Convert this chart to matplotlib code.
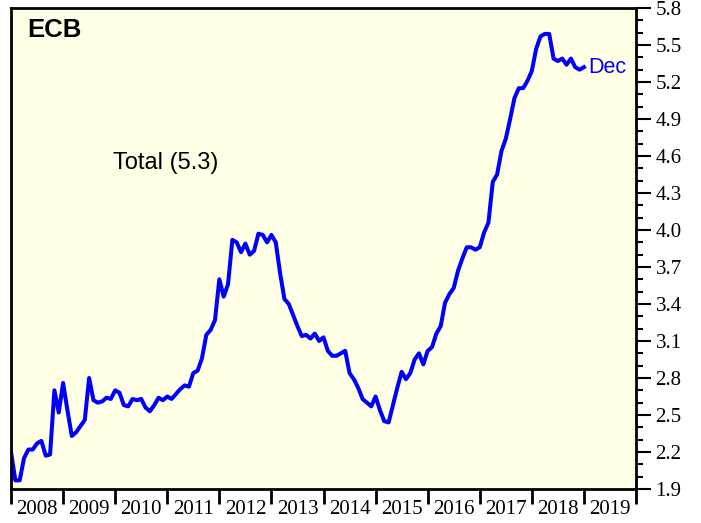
import numpy as np
import matplotlib
matplotlib.use('Agg')
import matplotlib.pyplot as plt
from matplotlib.ticker import FixedLocator, NullFormatter

# monthly values, Dec 2007 .. Dec 2018
values = [2.20, 1.97, 1.97, 2.15, 2.22, 2.22, 2.27, 2.29, 2.17, 2.18,
          2.70, 2.52, 2.76, 2.54, 2.33, 2.36, 2.41, 2.46, 2.80, 2.62,
          2.60, 2.61, 2.64, 2.63, 2.70, 2.68, 2.58, 2.57, 2.63, 2.62,
          2.63, 2.56, 2.53, 2.58, 2.64, 2.62, 2.65, 2.63, 2.67, 2.71,
          2.74, 2.73, 2.84, 2.86, 2.96, 3.15, 3.19, 3.27, 3.60, 3.46,
          3.56, 3.92, 3.90, 3.82, 3.89, 3.80, 3.83, 3.97, 3.96, 3.90,
          3.96, 3.90, 3.65, 3.44, 3.40, 3.31, 3.22, 3.14, 3.15, 3.12,
          3.16, 3.10, 3.13, 3.02, 2.98, 2.98, 3.00, 3.02, 2.84, 2.79,
          2.72, 2.63, 2.60, 2.57, 2.65, 2.54, 2.45, 2.44, 2.58, 2.72,
          2.85, 2.79, 2.84, 2.95, 3.00, 2.91, 3.02, 3.05, 3.16, 3.22,
          3.41, 3.48, 3.53, 3.67, 3.77, 3.86, 3.86, 3.84, 3.86, 3.98,
          4.06, 4.39, 4.45, 4.64, 4.74, 4.90, 5.07, 5.15, 5.15, 5.21,
          5.29, 5.47, 5.57, 5.59, 5.59, 5.39, 5.37, 5.39, 5.34, 5.39,
          5.32, 5.30, 5.32]
years = list(range(2008, 2020))
yticks = [1.9, 2.2, 2.5, 2.8, 3.1, 3.4, 3.7, 4.0, 4.3, 4.6, 4.9, 5.2, 5.5, 5.8]
title = 'ECB'
series_label = 'Total (5.3)'
end_label = 'Dec'

serif = 'Liberation Serif'
sans = 'Liberation Sans'
plt.rcParams['font.family'] = serif

x = 2008 + np.arange(len(values)) / 12.0

fig = plt.figure(figsize=(7.01, 5.23), dpi=100)
ax = fig.add_axes([11/701, 34/523, 625/701, 481/523])
ax.set_facecolor('#FFFFE6')

ax.plot(x, values, color='#0000FF', lw=2.9, solid_joinstyle='round')

ax.set_xlim(2008, 2020)
ax.set_ylim(1.9, 5.8)

# y axis on the right
ax.yaxis.tick_right()
ax.yaxis.set_major_locator(FixedLocator(yticks))
ax.yaxis.set_minor_locator(FixedLocator(np.arange(19, 59) / 10.0))
ax.set_yticklabels(['%.1f' % v for v in yticks])
ax.tick_params(axis='y', which='major', direction='out', length=11, width=1.5, pad=3,
               labelsize=15)
ax.tick_params(axis='y', which='minor', direction='out', length=5, width=1.5)

# x axis: year boundaries as ticks, labels between them
ax.xaxis.set_major_locator(FixedLocator(range(2008, 2021)))
ax.xaxis.set_major_formatter(NullFormatter())
ax.xaxis.set_minor_locator(FixedLocator([y + 0.5 for y in years]))
ax.set_xticklabels([str(y) for y in years], minor=True, fontsize=15)
ax.tick_params(axis='x', which='major', direction='out', length=11, width=2)
ax.tick_params(axis='x', which='minor', length=0, pad=8)

for lab in ax.get_yticklabels() + ax.get_xticklabels(minor=True):
    lab.set_fontfamily(serif)

for s in ax.spines.values():
    s.set_linewidth(2)

ax.text(0.026, 0.955, title, transform=ax.transAxes, fontsize=18.5, fontweight='bold',
        family=sans, va='center', ha='left')
ax.text(0.163, 0.678, series_label, transform=ax.transAxes, fontsize=17,
        family=sans, va='center', ha='left')
ax.annotate(end_label, xy=(x[-1], values[-1]), xytext=(3, 0), textcoords='offset points',
            color='#0000FF', fontsize=15.5, family=sans, va='center', ha='left')

fig.savefig('out.png', dpi=100)
